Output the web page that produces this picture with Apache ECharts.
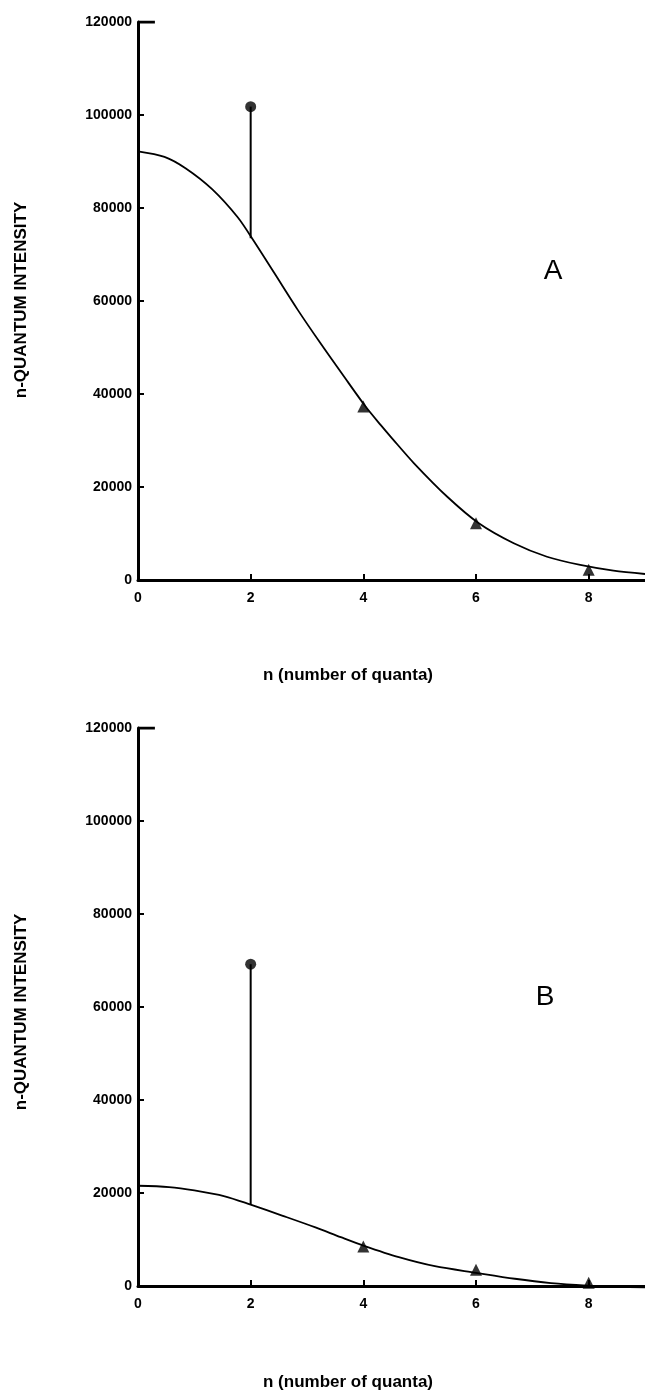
<!DOCTYPE html>
<html><head><meta charset="utf-8">
<script src="https://cdn.jsdelivr.net/npm/echarts@6/dist/echarts.min.js"></script>
<style>html,body{margin:0;padding:0;background:#fff}#c{width:645px;height:1395px}</style>
</head><body><div id="c"></div>
<script>
// ---- data ----
const xLabelValues = [0, 2, 4, 6, 8];
const xTickValues = [2, 4, 6, 8];
const yTickValues = [0, 20000, 40000, 60000, 80000, 100000, 120000];
const yAxisTitle = 'n-QUANTUM INTENSITY';
const xAxisTitle = 'n (number of quanta)';
const panelLabels = ['A', 'B'];

// Panel A
const curveA = [[0,92200],[0.47,91000],[0.85,88500],[1.32,84000],[1.77,78000],[2.05,73000],[2.42,66000],[2.83,58200],[3.24,50900],[3.66,43700],[4.04,37300],[4.31,33300],[4.51,30470],[4.9,25100],[5.49,17900],[6.05,12200],[6.67,7900],[7.26,5000],[7.85,3230],[8.44,2000],[9.0,1290]];
const stemA = [[2,73500],[2,101800]];
const peakA = [[2,101800]];
const triA = [[4,37300],[6,12200],[8,2200]];

// Panel B
const curveB = [[0,21560],[0.55,21280],[1.0,20570],[1.54,19300],[2.0,17500],[2.57,15100],[3.15,12600],[3.6,10500],[4.0,8700],[4.63,6200],[5.27,4255],[6.0,2840],[6.69,1560],[7.33,640],[7.97,100],[8.5,-150],[9.0,-300]];
const stemB = [[2,17500],[2,69200]];
const peakB = [[2,69200]];
const triB = [[4,8500],[6,3500],[8,700]];

const topCap = [[0,120000],[0.3,120000]];

// ---- chart ----
const FONT = "'Liberation Sans','Arial','Helvetica',sans-serif";
const INK = '#000';
const chart = echarts.init(document.getElementById('c'), null, {renderer:'canvas'});

function xAxisDef(gi){
  return {
    type:'value', gridIndex:gi, min:0, max:9,
    axisLine:{show:true, onZero:false, lineStyle:{color:INK, width:3}},
    axisTick:{show:true, inside:true, length:6, customValues:xTickValues, lineStyle:{color:INK, width:2}},
    axisLabel:{show:true, customValues:xLabelValues, color:INK, fontFamily:FONT, fontWeight:'bold', fontSize:14, margin:11,
      formatter:function(v){return String(v);}},
    splitLine:{show:false}
  };
}
function yAxisDef(gi){
  return {
    type:'value', gridIndex:gi, min:0, max:120000, interval:20000,
    axisLine:{show:true, onZero:false, lineStyle:{color:INK, width:3}},
    axisTick:{show:true, inside:true, length:6, customValues:yTickValues, lineStyle:{color:INK, width:2}},
    axisLabel:{show:true, customValues:yTickValues, color:INK, fontFamily:FONT, fontWeight:'bold', fontSize:14, margin:6,
      formatter:function(v){return String(v);}},
    splitLine:{show:false}
  };
}
function panelSeries(i, curve, stem, peak, tri){
  return [
    {type:'line', xAxisIndex:i, yAxisIndex:i, data:curve, smooth:0.3, showSymbol:false, clip:false,
     lineStyle:{color:INK, width:1.8}, silent:true, z:3},
    {type:'line', xAxisIndex:i, yAxisIndex:i, data:stem, showSymbol:false,
     lineStyle:{color:INK, width:2}, silent:true, z:4},
    {type:'scatter', xAxisIndex:i, yAxisIndex:i, data:peak, symbol:'circle', symbolSize:11,
     itemStyle:{color:INK}, silent:true, z:5},
    {type:'scatter', xAxisIndex:i, yAxisIndex:i, data:tri, symbol:'triangle', symbolSize:[12,12],
     itemStyle:{color:INK}, silent:true, z:5},
    {type:'line', xAxisIndex:i, yAxisIndex:i, data:topCap, showSymbol:false,
     lineStyle:{color:INK, width:3}, silent:true, z:4}
  ];
}

const option = {
  backgroundColor:'#fff',
  animation:false,
  grid:[
    {left:138, top:22, width:507, height:558},
    {left:138, top:728, width:507, height:558}
  ],
  xAxis:[xAxisDef(0), xAxisDef(1)],
  yAxis:[yAxisDef(0), yAxisDef(1)],
  series:[].concat(
    panelSeries(0, curveA, stemA, peakA, triA),
    panelSeries(1, curveB, stemB, peakB, triB)
  ),
  graphic:[
    {type:'text', x:21, y:300, rotation:Math.PI/2, style:{text:yAxisTitle, fill:INK, font:"bold 17px "+FONT, align:'center', verticalAlign:'middle'}},
    {type:'text', x:21, y:1012, rotation:Math.PI/2, style:{text:yAxisTitle, fill:INK, font:"bold 17px "+FONT, align:'center', verticalAlign:'middle'}},
    {type:'text', x:348, y:675, style:{text:xAxisTitle, fill:INK, font:"bold 17px "+FONT, align:'center', verticalAlign:'middle'}},
    {type:'text', x:348, y:1382, style:{text:xAxisTitle, fill:INK, font:"bold 17px "+FONT, align:'center', verticalAlign:'middle'}},
    {type:'text', x:553, y:271, style:{text:panelLabels[0], fill:INK, font:"28px "+FONT, align:'center', verticalAlign:'middle'}},
    {type:'text', x:545, y:997, style:{text:panelLabels[1], fill:INK, font:"28px "+FONT, align:'center', verticalAlign:'middle'}}
  ]
};
chart.setOption(option);
</script>
</body></html>
